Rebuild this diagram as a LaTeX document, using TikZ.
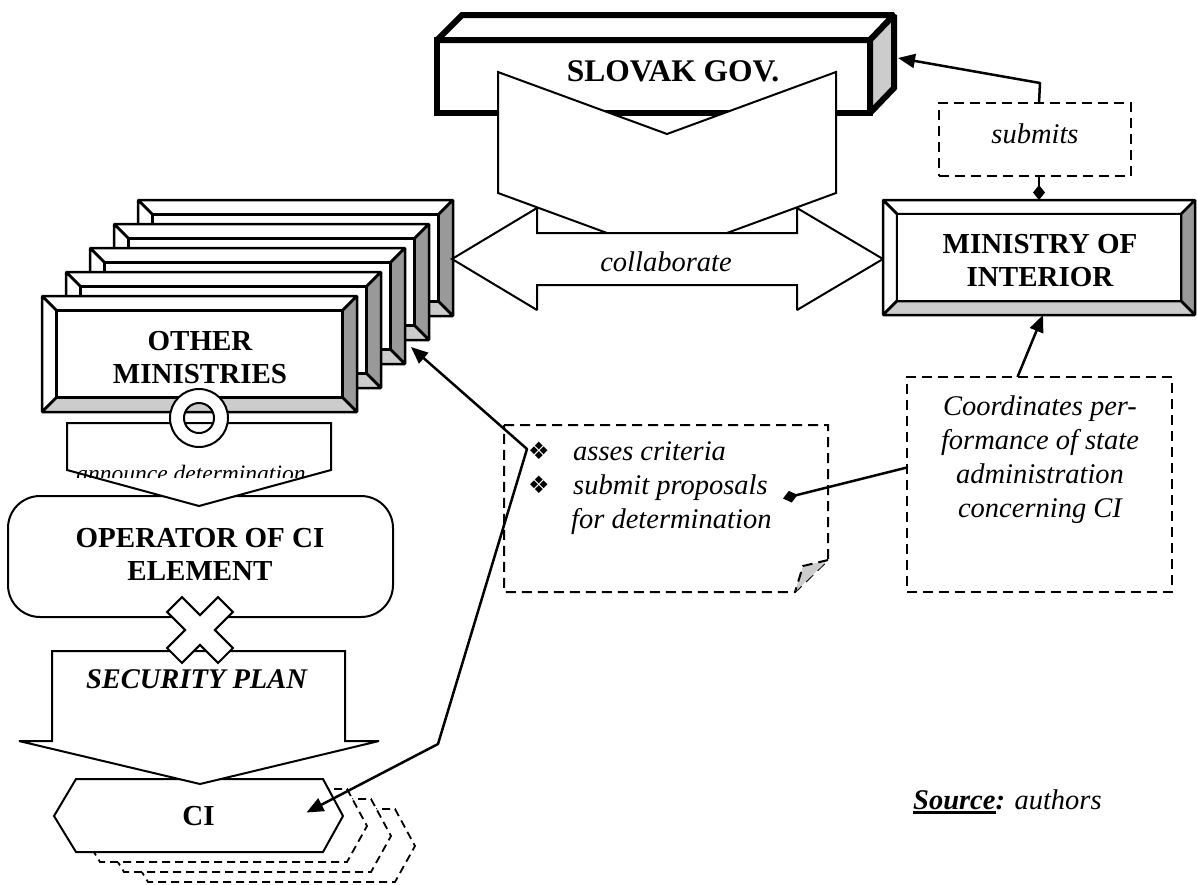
\documentclass[tikz,border=0pt]{standalone}
\usepackage{fontspec}
\setmainfont{Liberation Serif}
\newfontfamily\dejavu{DejaVu Sans}
\usetikzlibrary{arrows.meta,calc,fit}
\newcommand\bfbig{\fontsize{29}{33.5}\selectfont\bfseries}
\newcommand\bfslov{\fontsize{31.5}{36}\selectfont\bfseries}
\newcommand\itlab{\fontsize{28.5}{34}\selectfont\itshape}
\newcommand\itsmall{\fontsize{23.5}{28}\selectfont\itshape}
\newcommand\myul[1]{\setbox0\hbox{#1}\rlap{\rule[-4.7pt]{\wd0}{3.2pt}}\box0}
\newcommand\ornbullet{\raisebox{1pt}{\dejavu\fontsize{24}{28}\selectfont ❖}}
\newcommand\twolines[2]{\begin{tabular}[t]{@{}c@{}}#1\\#2\end{tabular}}
\tikzset{
  headtip/.tip={Triangle[length=17pt,width=14pt]},
  dtip/.tip={Diamond[length=15pt,width=12pt]},
  shp/.style={draw=black, line width=2pt, fill=white, line join=miter, miter limit=2},
  bev/.style={draw=black, line width=2.5pt, line join=miter, miter limit=2},
  slov/.style={draw=black, line width=6pt, line join=miter, miter limit=2},
  dbox/.style={draw=black, line width=2pt, dash pattern=on 10pt off 6pt, fill=white},
  dhex/.style={draw=black, line width=1.8pt, dash pattern=on 8pt off 5pt, fill=white},
  conn/.style={draw=black, line width=2.5pt, line join=round},
  fitbox/.style={inner sep=0pt, outer sep=0pt},
  lbl/.style={anchor=base, inner sep=0pt, outer sep=0pt},
}
% bevelled box: x1 y1 x2 y2 bevel
\newcommand\bevelbox[5]{%
  \filldraw[bev, fill=white] (#1,#2) -- (#3,#2) -- (#3-#5,#2+#5) -- (#1+#5,#2+#5) -- cycle;
  \filldraw[bev, fill=white] (#1,#2) -- (#1+#5,#2+#5) -- (#1+#5,#4-#5) -- (#1,#4) -- cycle;
  \filldraw[bev, fill=black!40] (#3,#2) -- (#3,#4) -- (#3-#5,#4-#5) -- (#3-#5,#2+#5) -- cycle;
  \filldraw[bev, fill=black!20] (#1,#4) -- (#3,#4) -- (#3-#5,#4-#5) -- (#1+#5,#4-#5) -- cycle;
  \filldraw[bev, fill=white] (#1+#5,#2+#5) rectangle (#3-#5,#4-#5);
}
\begin{document}
\begin{tikzpicture}[x=1pt,y=-1pt]
\useasboundingbox (0,0) rectangle (1197,884);

% ---------- SLOVAK GOV ----------
\filldraw[slov, fill=white] (437,40) rectangle (870,113);
\filldraw[slov, fill=white] (437,40) -- (462,15) -- (894,15) -- (870,40) -- cycle;
\filldraw[slov, fill=black!20] (870,40) -- (894,15) -- (894,88) -- (870,113) -- cycle;
\node[fitbox, fit={(437,15)(894,113)}] (slovak) {};
% chevron
\filldraw[shp] (498,72) -- (667,134) -- (836,72) -- (836,193) -- (667,255) -- (498,193) -- cycle;
\node[lbl] (slovaklabel) at (673,81) {\bfslov SLOVAK GOV.};

% ---------- OTHER MINISTRIES stack ----------
\foreach \k in {4,3,2,1} {
  \bevelbox{42+24*\k}{296-24*\k}{357+24*\k}{412-24*\k}{14.5}
  \node[fitbox, fit={(42+24*\k,296-24*\k)(357+24*\k,412-24*\k)}] (om\k) {};
}
\bevelbox{42}{296}{357}{412}{14.5}
\node[fitbox, fit={(42,296)(357,412)}] (om0) {};
\node[lbl] (om0label) at (200,350) {\bfbig\twolines{OTHER}{MINISTRIES}};

% ---------- collaborate ----------
\filldraw[shp] (452,259) -- (537,208) -- (537,233) -- (797,233) -- (797,208) -- (883,259)
  -- (797,310) -- (797,285) -- (537,285) -- (537,310) -- cycle;
\node[lbl] (collab) at (666,271) {\itlab collaborate};

% ---------- MINISTRY OF INTERIOR ----------
\bevelbox{883}{200}{1195}{315}{14}
\node[fitbox, fit={(883,200)(1195,315)}] (moi) {};
\node[lbl] (moilabel) at (1040,253) {\bfbig\twolines{MINISTRY OF}{INTERIOR}};

% ---------- submits ----------
\node[fitbox, dbox, fit={(939,103)(1131,176)}] (submits) {};
\node[lbl] (submitstext) at (1035,143) {\itlab submits};
\coordinate (sbend) at (1040,83);
\draw[conn, dtip-] (moi.north) -- (moi.north |- submits.south);
\draw[conn, -headtip] (moi.north |- submits.north) -- (sbend) -- ($(slovak.east)+(4,-6)$);

% ---------- operator and announce ----------
\node[fitbox, shp, rounded corners=32pt, fit={(8,496)(393,617)}] (operator) {};
\node[lbl] (operatorlabel) at (200,547) {\bfbig\twolines{OPERATOR OF CI}{ELEMENT}};
\filldraw[shp] (67,423) -- (331,423) -- (331,470) -- (199,506) -- (67,470) -- cycle;
\begin{scope}
  \clip (60,440) rectangle (340,477.5);
  \node[lbl] (announce) at (191,481) {\itsmall announce determination};
\end{scope}
\filldraw[draw=black, line width=2pt, fill=white, even odd rule] (199,418) circle (29) (199,418) circle (15);

% ---------- CI ----------
\foreach \k in {3,2,1} {
  \filldraw[dhex, shift={(24*\k,10*\k)}] (76,779) -- (323,779) -- (343,816) -- (323,852) -- (76,852) -- (54,816) -- cycle;
}
\filldraw[shp] (76,779) -- (323,779) -- (343,816) -- (323,852) -- (76,852) -- (54,816) -- cycle;
\node[fitbox, fit={(54,779)(343,852)}] (ci) {};
\node[lbl] (cilabel) at (198.5,825) {\bfbig CI};

% ---------- security plan ----------
\filldraw[shp] (52,651) -- (345,651) -- (345,741) -- (379,741) -- (200,784) -- (19,741) -- (52,741) -- cycle;
\node[lbl] (secplan) at (196.5,688) {\fontsize{28.5}{34}\selectfont\bfseries\itshape SECURITY PLAN};

% cross
\filldraw[shp, shift={(200,630)}, rotate=45] (10.5,10.5) -- (36,10.5) -- (36,-10.5) -- (10.5,-10.5) -- (10.5,-36)
  -- (-10.5,-36) -- (-10.5,-10.5) -- (-36,-10.5) -- (-36,10.5) -- (-10.5,10.5) -- (-10.5,36) -- (10.5,36) -- cycle;

% ---------- note ----------
\filldraw[dbox] (504,425) -- (828,425) -- (828,560) -- (795,592) -- (504,592) -- cycle;
\filldraw[dbox, fill=black!20] (828,560) -- (803,566) -- (795,592);
\node[fitbox, fit={(504,425)(828,592)}] (note) {};
\node[anchor=base west, inner sep=0pt] (notetext) at (528,460) {\itlab\begin{tabular}[t]{@{}l@{}}%
\makebox[45pt][l]{\ornbullet}asses criteria\\
\makebox[45pt][l]{\ornbullet}submit proposals\\
\hspace*{43pt}for determination\end{tabular}};

% ---------- coordinates ----------
\node[fitbox, dbox, fit={(907,377)(1172,592)}] (coord) {};
\node[lbl] (coordtext) at (1040,415) {\itlab\begin{tabular}[t]{@{}c@{}}%
Coordinates per-\\formance of state\\administration\\concerning CI\end{tabular}};

% ---------- connectors ----------
\draw[conn, -headtip] ($(coord.north)+(-22,0)$) -- ($(moi.south)+(4,0)$);
\draw[conn, -dtip] ($(coord.west)+(0,-17)$) -- ($(note.center)+(117,-10)$);
\coordinate (nb) at (527,449);
\coordinate (elb) at (438,744);
\draw[conn, headtip-headtip] ($(om2.south east)+(6,-17)$) -- (nb) -- (elb) -- ($(ci.center)+(108,-3)$);

% ---------- source ----------
\node[anchor=base west, inner sep=0pt] (source) at (913,809) {\itlab\myul{\bfseries Source}\textbf{:} authors};
\end{tikzpicture}
\end{document}
